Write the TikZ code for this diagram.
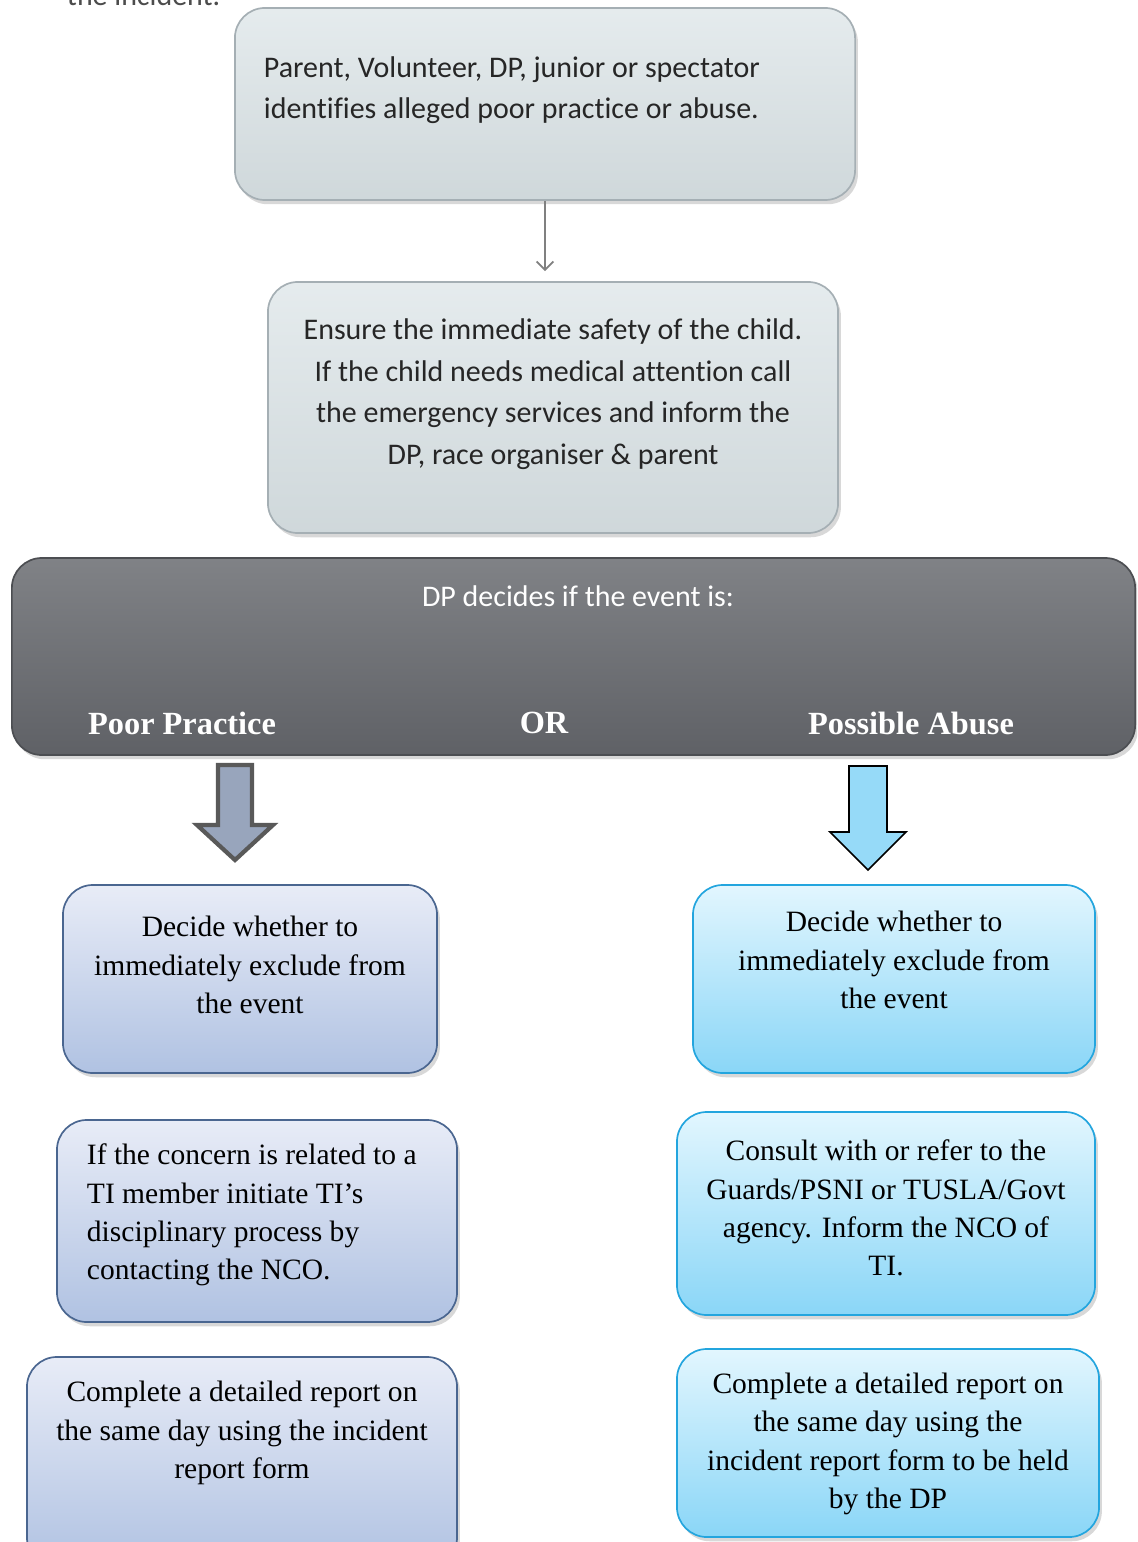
\documentclass[tikz,border=0pt]{standalone}
\usepackage{fontspec}
\setmainfont{Liberation Serif}
\newfontfamily\calibri[Ligatures=NoCommon]{Carlito}
\usetikzlibrary{shadows,arrows.meta}
\definecolor{mistfill}{HTML}{DAE3E6}
\definecolor{mistrim}{HTML}{A5AFB4}
\definecolor{slatetop}{HTML}{808286}
\definecolor{slatebot}{HTML}{5F6166}
\definecolor{pptop}{HTML}{E8ECF7}
\definecolor{ppbot}{HTML}{B0C2E2}
\definecolor{pprim}{HTML}{4A6690}
\definecolor{patop}{HTML}{E2F6FE}
\definecolor{pabot}{HTML}{8AD6F7}
\definecolor{parim}{HTML}{23A5DE}
\tikzset{
  softshadow/.style={drop shadow={shadow xshift=2pt,shadow yshift=-3pt,opacity=.3}},
  mistbox/.style={draw=mistrim,line width=1.2pt,rounded corners=.75cm,top color=mistfill!70!white,bottom color=mistfill!95!black,softshadow},
  slatebox/.style={draw=slatebot!80!black,line width=1.2pt,rounded corners=.75cm,top color=slatetop,bottom color=slatebot,softshadow},
  ppbox/.style={draw=pprim,line width=1.2pt,rounded corners=.75cm,top color=pptop,bottom color=ppbot,softshadow},
  pabox/.style={draw=parim,line width=1.2pt,rounded corners=.75cm,top color=patop,bottom color=pabot,softshadow},
  caltxt/.style={font=\calibri\fontsize{21.3}{29.6}\selectfont,text=black!85},
  romtxt/.style={font=\fontsize{21}{27.3}\selectfont,align=center},
  headtxt/.style={font=\bfseries\fontsize{23}{27}\selectfont,text=white}
}
\begin{document}
\begin{tikzpicture}[x=0.025cm,y=-0.025cm]
\clip (0,0) rectangle (1137,1542);
\fill[white] (0,0) rectangle (1137,1542);
\node[caltxt,text=black!70,anchor=base west] (prev) at (62,6) {the incident.};
% top steps
\node[mistbox,minimum width=15.5cm,minimum height=4.8cm] (spot) at (545,104) {};
\node[caltxt,align=left,anchor=west] (spot-t) at (259,90) {Parent, Volunteer, DP, junior or spectator\\identifies alleged poor practice or abuse.};
\node[mistbox,minimum width=14.25cm,minimum height=6.275cm] (safe) at (553,407.5) {};
\node[caltxt,align=center] (safe-t) at (553,394) {Ensure the immediate safety of the child.\\If the child needs medical attention call\\the emergency services and inform the\\DP, race organiser \& parent};
\draw[-{Straight Barb[length=6pt,width=12pt]},draw=black!50,line width=1.2pt,shorten >=0.25cm](spot.south)--(spot.south |- safe.north);
% decision
\node[slatebox,minimum width=28.075cm,minimum height=4.925cm] (decide) at (573.5,656.5) {};
\node[caltxt,text=white] (decide-t) at (578,596) {DP decides if the event is:};
\node[headtxt] (poor) at (182,723) {Poor Practice};
\node[headtxt] (or) at (544,723) {OR};
\node[headtxt] (abuse) at (911,723) {Possible Abuse};
% block arrows
\draw[fill=ppbot!80!black!90,draw=black!65,line width=3pt,line join=miter] (218,765)--(252,765)--(252,825)--(273,825)--(235,860)--(197,825)--(218,825)--cycle;
\draw[fill=pabot!90,draw=black,line width=1.2pt,line join=miter] (849,766)--(887,766)--(887,832)--(906,832)--(868,870)--(830,832)--(849,832)--cycle;
% poor practice column
\node[ppbox,minimum width=9.35cm,minimum height=4.7cm] (pp1) at (250,979) {};
\node[romtxt] (pp1-t) at (250,965) {Decide whether to\\immediately exclude from\\the event};
\node[ppbox,minimum width=10cm,minimum height=5.05cm] (pp2) at (257,1221) {};
\node[romtxt,align=left,anchor=west] (pp2-t) at (82,1215) {If the concern is related to a\\TI member initiate TI's\\disciplinary process by\\contacting the NCO.};
\node[ppbox,minimum width=10.75cm,minimum height=5.25cm] (pp3) at (242,1462) {};
\node[romtxt] (pp3-t) at (242,1433) {Complete a detailed report on\\the same day using the incident\\report form};
% possible abuse column
\node[pabox,minimum width=10.05cm,minimum height=4.7cm] (pa1) at (894,979) {};
\node[romtxt] (pa1-t) at (894,960) {Decide whether to\\immediately exclude from\\the event};
\node[pabox,minimum width=10.45cm,minimum height=5.075cm] (pa2) at (886,1213.5) {};
\node[romtxt] (pa2-t) at (886,1208) {Consult with or refer to the\\Guards/PSNI or TUSLA/Govt\\agency. Inform the NCO of\\TI.};
\node[pabox,minimum width=10.55cm,minimum height=4.7cm] (pa3) at (888,1443) {};
\node[romtxt] (pa3-t) at (888,1444) {Complete a detailed report on\\the same day using the\\incident report form to be held\\by the DP};
\end{tikzpicture}
\end{document}
